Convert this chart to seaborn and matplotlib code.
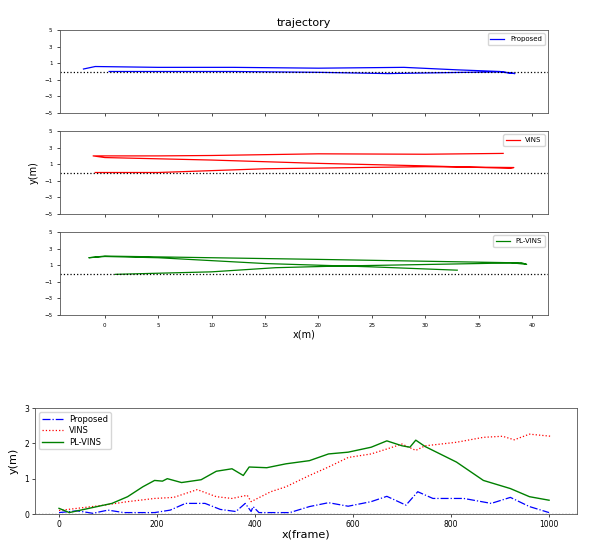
import matplotlib
matplotlib.use("Agg")
import matplotlib.pyplot as plt
import seaborn as sns
import pandas as pd

# Trajectories (x, y in metres)
prop_x = [-2, -0.9, 5, 12, 20, 28, 33, 37, 38.4, 37, 33.8, 26.5, 20, 12, 5, 0.4]
prop_y = [0.3, 0.6, 0.5, 0.5, 0.4, 0.5, 0.2, 0.0, -0.25, -0.05, -0.1, -0.25, -0.1, 0.0, 0.0, 0.0]
vins_x = [37.3, 30, 20, 10, 5, -1.1, 0, 10, 20, 30, 38, 38.3, 30, 15, 5, -0.9]
vins_y = [2.3, 2.2, 2.25, 2.05, 2.0, 2.0, 1.8, 1.5, 1.1, 0.8, 0.5, 0.6, 0.7, 0.45, 0.0, 0.0]
pl_x = [1, 10, 16, 22, 35, 39, 39.5, 38, 20, 5, 0, -1.5, 0, 5, 15, 25, 33]
pl_y = [-0.1, 0.2, 0.7, 0.9, 1.2, 1.3, 1.1, 1.3, 1.7, 2.0, 2.1, 1.9, 2.05, 1.9, 1.2, 0.8, 0.4]

# Error vs frame
p_f = [0, 37, 69, 100, 132, 195, 227, 258, 298, 329, 361, 380, 392, 396, 408, 471, 511, 550, 590, 637, 669, 708, 732, 763, 826, 882, 921, 960, 1000]
p_e = [0.04, 0.09, 0.02, 0.11, 0.04, 0.04, 0.11, 0.3, 0.3, 0.13, 0.07, 0.3, 0.07, 0.21, 0.04, 0.04, 0.21, 0.32, 0.22, 0.35, 0.5, 0.25, 0.63, 0.44, 0.44, 0.3, 0.47, 0.21, 0.04]
v_f = [0, 37, 92, 140, 195, 234, 282, 321, 353, 384, 392, 432, 463, 511, 550, 590, 637, 669, 700, 728, 747, 811, 866, 905, 929, 960, 1004]
v_e = [0.1, 0.16, 0.25, 0.35, 0.44, 0.47, 0.69, 0.49, 0.44, 0.53, 0.35, 0.63, 0.77, 1.09, 1.33, 1.6, 1.7, 1.84, 1.98, 1.8, 1.93, 2.03, 2.17, 2.2, 2.1, 2.26, 2.2]
l_f = [0, 21, 61, 108, 140, 171, 195, 211, 221, 250, 290, 321, 353, 376, 388, 424, 463, 511, 550, 590, 637, 669, 700, 716, 728, 747, 811, 866, 921, 960, 1000]
l_e = [0.16, 0.04, 0.16, 0.3, 0.49, 0.77, 0.95, 0.93, 1.0, 0.89, 0.97, 1.21, 1.28, 1.09, 1.33, 1.31, 1.42, 1.51, 1.7, 1.75, 1.89, 2.07, 1.93, 1.89, 2.09, 1.91, 1.47, 0.95, 0.72, 0.49, 0.39]

W, H = 600, 548
fig = plt.figure(figsize=(6, 5.48), dpi=100)

def ax_px(l, t, r, b):
    return fig.add_axes([l / W, 1 - b / H, (r - l) / W, (b - t) / H])

tops = [(30, 113), (131, 214), (232, 315)]
trajs = [(prop_x, prop_y, "blue", "Proposed"), (vins_x, vins_y, "red", "VINS"), (pl_x, pl_y, "green", "PL-VINS")]
for i, ((t, b), (xs, ys, c, lab)) in enumerate(zip(tops, trajs)):
    ax = ax_px(60, t, 548, b)
    df = pd.DataFrame({"x": xs, "y": ys})
    sns.lineplot(data=df, x="x", y="y", sort=False, estimator=None, color=c, lw=0.9, label=lab, ax=ax)
    ax.axhline(0, color="black", ls=":", lw=0.9)
    ax.set_xlim(-4.2, 41.5)
    ax.set_ylim(-5, 5)
    ax.set_yticks([-5, -3, -1, 1, 3, 5])
    ax.set_xticks([0, 5, 10, 15, 20, 25, 30, 35, 40])
    ax.tick_params(labelsize=4, length=2, width=0.5)
    if i < 2:
        ax.set_xticklabels([])
    ax.set_xlabel("")
    ax.set_ylabel("")
    ax.legend(loc="upper right", fontsize=5, handlelength=2)
    for s in ax.spines.values():
        s.set_linewidth(0.6); s.set_color("#555555")
    if i == 0:
        ax.set_title("trajectory", fontsize=8, pad=3)
    if i == 1:
        ax.set_ylabel("y(m)", fontsize=7)
    if i == 2:
        ax.set_xlabel("x(m)", fontsize=7, labelpad=1)

ax = ax_px(35, 408, 577, 514)
sns.lineplot(x=p_f, y=p_e, color="blue", ls="-.", lw=0.9, label="Proposed", ax=ax)
sns.lineplot(x=v_f, y=v_e, color="red", ls=":", lw=0.9, label="VINS", ax=ax)
sns.lineplot(x=l_f, y=l_e, color="green", ls="-", lw=1.0, label="PL-VINS", ax=ax)
ax.axhline(0, color="black", ls=":", lw=0.9)
ax.set_xlim(-49, 1057)
ax.set_ylim(0, 3)
ax.set_yticks([0, 1, 2, 3])
ax.set_xticks([0, 200, 400, 600, 800, 1000])
ax.tick_params(labelsize=5.5, length=2, width=0.5, pad=2)
ax.set_xlabel("x(frame)", fontsize=8, labelpad=1)
ax.set_ylabel("y(m)", fontsize=8)
ax.legend(loc="upper left", fontsize=6, handlelength=2.5, borderpad=0.3, labelspacing=0.3)
for s in ax.spines.values():
    s.set_linewidth(0.6); s.set_color("#555555")

fig.savefig("out.png", dpi=100)
